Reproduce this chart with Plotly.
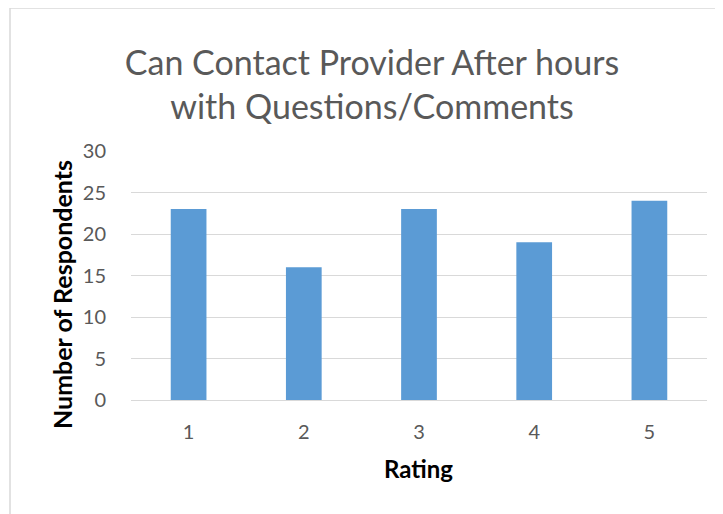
# Gráfica de barras - Contacto con el proveedor fuera de horario
import plotly.graph_objects as go

# Datos
ratings = ["1", "2", "3", "4", "5"]
respondents = [23, 16, 23, 19, 24]
y_ticks = [0, 5, 10, 15, 20, 25, 30]

font_family = "Lato, Open Sans, sans-serif"
gris = "#595959"
grid = "#d9d9d9"

fig = go.Figure()

fig.add_trace(go.Bar(
    x = ratings,
    y = respondents,
    marker = dict(color = "#5b9bd5", line = dict(width = 0)),
    width = 0.31,
    showlegend = False
))

# La página tiene un margen de 8 px, por eso el tamaño es 715x506
fig.update_layout(
    width = 715,
    height = 506,
    margin = dict(l = 123, r = 16, t = 143, b = 114),
    paper_bgcolor = "white",
    plot_bgcolor = "white",
    font = dict(family = font_family, color = gris, size = 20),
    title = dict(
        text = "Can Contact Provider After hours<br>with Questions/Comments",
        x = 364 / 715,
        xanchor = "center",
        y = 1 - 67 / 506,
        yanchor = "middle",
        font = dict(size = 34, color = gris, family = font_family)
    )
)

fig.update_xaxes(
    type = "category",
    showgrid = False,
    showline = False,
    ticks = "outside",
    ticklen = 14,
    tickcolor = "rgba(0,0,0,0)",
    tickfont = dict(size = 20, color = gris)
)

fig.update_yaxes(
    range = [0, 30],
    tickvals = y_ticks,
    showgrid = True,
    gridcolor = grid,
    gridwidth = 1,
    zeroline = True,
    zerolinecolor = grid,
    zerolinewidth = 1,
    ticks = "outside",
    ticklen = 20,
    tickcolor = "rgba(0,0,0,0)",
    tickfont = dict(size = 20, color = gris)
)

# Títulos de los ejes
fig.add_annotation(
    text = "<b>Rating</b>",
    xref = "paper", yref = "paper",
    x = (418 - 131) / 576, y = -(468 - 400) / 249,
    xanchor = "center", yanchor = "middle",
    showarrow = False,
    font = dict(size = 24, color = "black", family = font_family)
)
fig.add_annotation(
    text = "<b>Number of Respondents</b>",
    xref = "paper", yref = "paper",
    x = (62 - 131) / 576, y = (400 - 295) / 249,
    xanchor = "center", yanchor = "middle",
    textangle = -90,
    showarrow = False,
    font = dict(size = 25, color = "black", family = font_family)
)

# Borde del gráfico (solo arriba e izquierda quedan a la vista)
fig.add_shape(
    type = "line",
    xref = "paper", yref = "paper",
    x0 = (10 - 131) / 576, x1 = (740 - 131) / 576,
    y0 = (400 - 8) / 249, y1 = (400 - 8) / 249,
    line = dict(color = grid, width = 1.5),
    layer = "below"
)
fig.add_shape(
    type = "line",
    xref = "paper", yref = "paper",
    x0 = (10 - 131) / 576, x1 = (10 - 131) / 576,
    y0 = (400 - 530) / 249, y1 = (400 - 8) / 249,
    line = dict(color = grid, width = 1.5),
    layer = "below"
)

fig.write_html("out.html")
